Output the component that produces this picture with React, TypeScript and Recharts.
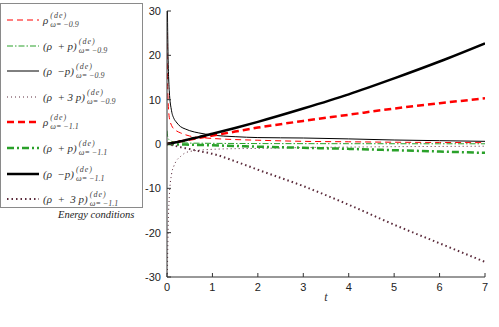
import React from "react";
import { LineChart, Line, XAxis, YAxis } from "recharts";

// cosmic time samples (dense near 0 where the w = -0.9 curves blow up)
const tVals = [0, 0.01, 0.02, 0.05, 0.1, 0.15, 0.2, 0.3, 0.4, 0.5, 0.7, 1, 1.5, 2, 3, 4, 5, 6, 7];

// w = -0.9
const rhoA = [25, 16, 11, 6, 4.2, 3.4, 3.0, 2.5, 2.1, 1.8, 1.5, 1.25, 1.0, 0.85, 0.6, 0.5, 0.4, 0.35, 0.3];
const rhoPlusPA = [3, 2, 1.5, 0.9, 0.6, 0.45, 0.4, 0.3, 0.25, 0.2, 0.18, 0.15, 0.12, 0.1, 0.08, 0.07, 0.06, 0.05, 0.05];
const rhoMinusPA = [45, 30, 22, 12, 7.5, 5.8, 5.0, 3.9, 3.4, 3.0, 2.5, 2.0, 1.65, 1.45, 1.35, 1.15, 0.9, 0.75, 0.6];
const rho3pA = [-60, -30, -22, -12, -6.8, -5.0, -3.9, -2.8, -2.0, -1.7, -1.4, -1.2, -1.05, -1.0, -0.8, -0.7, -0.6, -0.55, -0.5];

// w = -1.1
const rhoB = [0, 0.02, 0.04, 0.1, 0.2, 0.3, 0.4, 0.6, 0.8, 1.0, 1.4, 1.9, 2.8, 3.7, 5.2, 6.6, 8.0, 9.2, 10.3];
const rhoPlusPB = [0, 0, 0, -0.02, -0.04, -0.06, -0.08, -0.1, -0.13, -0.16, -0.22, -0.3, -0.45, -0.6, -0.85, -1.1, -1.4, -1.7, -2.0];
const rhoMinusPB = [0, 0.02, 0.04, 0.1, 0.2, 0.3, 0.4, 0.6, 0.85, 1.1, 1.55, 2.3, 3.6, 5.0, 8.0, 11.2, 14.8, 18.6, 22.7];
const rho3pB = [0, -0.02, -0.05, -0.12, -0.24, -0.36, -0.48, -0.72, -0.95, -1.15, -1.6, -2.2, -3.9, -5.8, -9.5, -13.7, -18.2, -22.4, -26.6];

const xTicks = [0, 1, 2, 3, 4, 5, 6, 7];
const yTicks = [-30, -20, -10, 0, 10, 20, 30];

const data = tVals.map((t, i) => ({
  t,
  rhoA: rhoA[i],
  rhoPlusPA: rhoPlusPA[i],
  rhoMinusPA: rhoMinusPA[i],
  rho3pA: rho3pA[i],
  rhoB: rhoB[i],
  rhoPlusPB: rhoPlusPB[i],
  rhoMinusPB: rhoMinusPB[i],
  rho3pB: rho3pB[i],
}));

const RED = "#ff0000";
const GREEN = "#2aa12a";
const BLACK = "#000000";
const DOT = "#5a2a3a";

type S = { key: string; color: string; dash?: string; width: number; main: string; w: string };
const series: S[] = [
  { key: "rhoA", color: RED, dash: "6 4", width: 1, main: "ρ", w: "−0.9" },
  { key: "rhoPlusPA", color: GREEN, dash: "6 2 1.5 2", width: 1, main: "(ρ  + p)", w: "−0.9" },
  { key: "rhoMinusPA", color: BLACK, width: 1, main: "(ρ  −p)", w: "−0.9" },
  { key: "rho3pA", color: DOT, dash: "1 3", width: 1, main: "(ρ  + 3 p)", w: "−0.9" },
  { key: "rhoB", color: RED, dash: "7 4", width: 2.5, main: "ρ", w: "−1.1" },
  { key: "rhoPlusPB", color: GREEN, dash: "7 3 2 3", width: 2.5, main: "(ρ  + p)", w: "−1.1" },
  { key: "rhoMinusPB", color: BLACK, width: 2.5, main: "(ρ  −p)", w: "−1.1" },
  { key: "rho3pB", color: DOT, dash: "1.5 3", width: 2, main: "(ρ  +  3 p)", w: "−1.1" },
];

const serif = "'Liberation Serif', 'DejaVu Serif', serif";

function LegendBox() {
  return (
    <div style={{ position: "absolute", left: 0, top: 3, width: 143, height: 225, fontFamily: serif }}>
      <div style={{ position: "absolute", left: 0, top: 0, width: 141, height: 203, border: "1.5px solid #8a8a8a", background: "#fff" }}>
        {series.map((s, i) => (
          <div key={s.key} style={{ position: "absolute", left: 6, top: 6 + i * 25.6, height: 20, display: "flex", alignItems: "center" }}>
            <svg width={32} height={6} style={{ marginRight: 4 }}>
              <line x1={0} y1={3} x2={32} y2={3} stroke={s.color} strokeWidth={s.width} strokeDasharray={s.dash} />
            </svg>
            <span style={{ fontSize: 11, fontStyle: "italic", color: "#333", whiteSpace: "pre", lineHeight: "12px" }}>{s.main}</span>
            <span style={{ display: "inline-flex", flexDirection: "column", marginLeft: 2, fontSize: 8, fontStyle: "italic", color: "#444", lineHeight: "9px" }}>
              <span style={{ letterSpacing: 1 }}>(de)</span>
              <span style={{ whiteSpace: "pre" }}>{"ω= " + s.w}</span>
            </span>
          </div>
        ))}
      </div>
      <div style={{ position: "absolute", left: 58, top: 206, fontSize: 10.5, fontStyle: "italic", color: "#222" }}>
        Energy conditions
      </div>
    </div>
  );
}

const tickFont = { fontFamily: "'Liberation Sans', Arial, sans-serif", fontSize: 11, fill: "#222" };

export default function App() {
  return (
    <div style={{ position: "absolute", left: 0, top: 0, width: 499, height: 327, background: "#fff" }}>
      <LineChart width={499} height={327} data={data} margin={{ top: 11, right: 14, left: 137, bottom: 20 }}>
        <XAxis
          dataKey="t"
          type="number"
          domain={[0, 7]}
          ticks={xTicks}
          allowDataOverflow
          height={30}
          stroke="#333"
          tickSize={-4}
          tickMargin={10}
          tick={tickFont}
          label={{ value: "t", position: "insideBottom", offset: 6, style: { fontFamily: serif, fontStyle: "italic", fontSize: 12, fill: "#333" } }}
        />
        <YAxis
          type="number"
          domain={[-30, 30]}
          ticks={yTicks}
          allowDataOverflow
          width={30}
          stroke="#333"
          tickSize={-4}
          tickMargin={10}
          tick={tickFont}
        />
        {series.map((s) => (
          <Line
            key={s.key}
            dataKey={s.key}
            type="monotone"
            stroke={s.color}
            strokeWidth={s.width}
            strokeDasharray={s.dash}
            dot={false}
            isAnimationActive={false}
          />
        ))}
      </LineChart>
      <LegendBox />
    </div>
  );
}
